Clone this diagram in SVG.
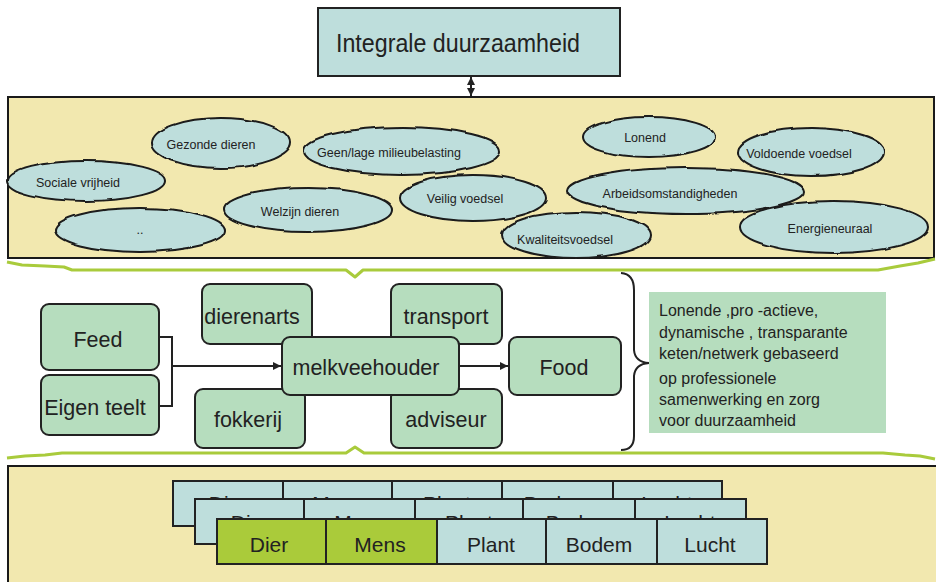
<svg xmlns="http://www.w3.org/2000/svg" width="936" height="582" viewBox="0 0 936 582">
<defs>
<style>
.panel{fill:#F2E8AF;stroke:#1a1a1a;stroke-width:2}
.ell{fill:#BEDEDC;stroke:#1a1a1a;stroke-width:2;filter:url(#wob)}
.et{font-family:"Liberation Sans",Arial,sans-serif;font-size:12.5px;fill:#222;text-anchor:middle}
.node{fill:#B6DDBE;stroke:#222;stroke-width:2}
.nt{font-family:"Liberation Sans",Arial,sans-serif;font-size:21.5px;fill:#222;text-anchor:middle}
.cell{fill:#BEDEDC;stroke:#222;stroke-width:2}
.cellg{fill:#AACB3A;stroke:#222;stroke-width:2}
.ct{font-family:"Liberation Sans",Arial,sans-serif;font-size:21px;fill:#222;text-anchor:middle}
.bt{font-family:"Liberation Sans",Arial,sans-serif;font-size:16px;fill:#222}
.conn{fill:none;stroke:#222;stroke-width:2}
.brace{fill:none;stroke:#A9CB3C;stroke-width:3;stroke-linejoin:round}
</style>
<filter id="wob" x="-10%" y="-20%" width="120%" height="140%">
<feTurbulence type="fractalNoise" baseFrequency="0.05" numOctaves="1" seed="4" result="n"/>
<feDisplacementMap in="SourceGraphic" in2="n" scale="4" xChannelSelector="R" yChannelSelector="G"/>
</filter>
<clipPath id="c1"><rect x="173" y="481" width="549" height="18"/></clipPath>
<clipPath id="c2"><rect x="195" y="499" width="551" height="20"/></clipPath>
<marker id="ah" viewBox="0 0 10 10" refX="10" refY="5" markerWidth="4" markerHeight="4" orient="auto-start-reverse">
<path d="M0,0 L10,5 L0,10 z" fill="#222"/>
</marker>
</defs>

<!-- top box -->
<g id="integrale">
<rect x="318" y="8" width="302" height="68" fill="#BEDEDC" stroke="#222" stroke-width="2"/>
<text x="458" y="52" font-family="'Liberation Sans',Arial,sans-serif" font-size="26" fill="#222" text-anchor="middle" textLength="244" lengthAdjust="spacingAndGlyphs">Integrale duurzaamheid</text>
</g>

<!-- values panel -->
<g id="waarden">
<rect class="panel" x="8" y="97" width="926" height="161"/>
<g id="e-gezonde"><ellipse class="ell" cx="221" cy="143" rx="69" ry="25"/><text class="et" x="211" y="148.5">Gezonde dieren</text></g>
<g id="e-sociale"><ellipse class="ell" cx="86" cy="181" rx="79" ry="20"/><text class="et" x="78" y="186.5">Sociale vrijheid</text></g>
<g id="e-dots"><ellipse class="ell" cx="140" cy="230" rx="85" ry="22"/><text class="et" x="140" y="234">..</text></g>
<g id="e-welzijn"><ellipse class="ell" cx="308" cy="210" rx="84" ry="22"/><text class="et" x="300" y="215.5">Welzijn dieren</text></g>
<g id="e-geen"><ellipse class="ell" cx="402" cy="151" rx="98" ry="24"/><text class="et" x="389" y="156.5">Geen/lage milieubelasting</text></g>
<g id="e-veilig"><ellipse class="ell" cx="473" cy="198" rx="73" ry="23"/><text class="et" x="465" y="202.5">Veilig voedsel</text></g>
<g id="e-lonend"><ellipse class="ell" cx="649" cy="137" rx="66" ry="20"/><text class="et" x="645" y="141.5">Lonend</text></g>
<g id="e-voldoende"><ellipse class="ell" cx="811" cy="152" rx="73" ry="24"/><text class="et" x="799" y="157.5">Voldoende voedsel</text></g>
<g id="e-arbeid"><ellipse class="ell" cx="686" cy="191" rx="118" ry="23"/><text class="et" x="670" y="197.5">Arbeidsomstandigheden</text></g>
<g id="e-kwaliteit"><ellipse class="ell" cx="576" cy="235" rx="74" ry="23"/><text class="et" x="565" y="243.5">Kwaliteitsvoedsel</text></g>
<g id="e-energie"><ellipse class="ell" cx="834" cy="227" rx="94" ry="26"/><text class="et" x="830" y="232.5">Energieneuraal</text></g>
</g>

<!-- bottom panel -->
<g id="basis">
<rect class="panel" x="8" y="466" width="940" height="130"/>
<g id="rij1">
<rect class="cell" x="173" y="481" width="110" height="45"/><rect class="cell" x="283" y="481" width="109" height="45"/><rect class="cell" x="392" y="481" width="110" height="45"/><rect class="cell" x="502" y="481" width="111" height="45"/><rect class="cell" x="613" y="481" width="109" height="45"/>
<g clip-path="url(#c1)"><text class="ct" x="228" y="511">Dier</text><text class="ct" x="338" y="511">Mens</text><text class="ct" x="447" y="511">Plant</text><text class="ct" x="557" y="511">Bodem</text><text class="ct" x="667" y="511">Lucht</text></g>
</g>
<g id="rij2">
<rect class="cell" x="195" y="499" width="109" height="45"/><rect class="cell" x="304" y="499" width="111" height="45"/><rect class="cell" x="415" y="499" width="108" height="45"/><rect class="cell" x="523" y="499" width="112" height="45"/><rect class="cell" x="635" y="499" width="111" height="45"/>
<g clip-path="url(#c2)"><text class="ct" x="250" y="530">Dier</text><text class="ct" x="360" y="530">Mens</text><text class="ct" x="469" y="530">Plant</text><text class="ct" x="579" y="530">Bodem</text><text class="ct" x="690" y="530">Lucht</text></g>
</g>
<g id="rij3">
<rect class="cellg" x="217" y="519" width="109" height="45"/><rect class="cellg" x="326" y="519" width="111" height="45"/><rect class="cell" x="437" y="519" width="109" height="45"/><rect class="cell" x="546" y="519" width="111" height="45"/><rect class="cell" x="657" y="519" width="110" height="45"/>
<text class="ct" x="269" y="551.5">Dier</text><text class="ct" x="380" y="551.5">Mens</text><text class="ct" x="491" y="551.5">Plant</text><text class="ct" x="599" y="551.5">Bodem</text><text class="ct" x="710" y="551.5">Lucht</text>
</g>
</g>

<!-- braces -->
<g id="accolades">
<path class="brace" d="M7,262 L22,265 L45,266 L64,267 L72,270 L346,270 L355,277 L363,270 L878,270 L900,266 L918,263 L935,259"/>
<path class="brace" d="M7,458 L25,456 L45,455 L62,453 L346,453 L355,447 L364,453 L883,453 L905,455 L920,456 L935,459"/>
<path class="conn" d="M621,273 Q634,274 634,290 L634,350 Q635,362 649,363 Q635,364 634,376 L634,436 Q634,450 621,450"/>
</g>

<!-- nodes -->
<g id="feed"><rect class="node" x="41" y="304" width="118" height="66" rx="8"/><text class="nt" x="98" y="347">Feed</text></g>
<g id="eigen-teelt"><rect class="node" x="41" y="375" width="118" height="60" rx="8"/><text class="nt" x="95" y="415">Eigen teelt</text></g>
<g id="dierenarts"><rect class="node" x="202" y="284" width="110" height="60" rx="8"/><text class="nt" x="252" y="324">dierenarts</text></g>
<g id="fokkerij"><rect class="node" x="195" y="389" width="110" height="59" rx="8"/><text class="nt" x="248" y="427">fokkerij</text></g>
<g id="transport"><rect class="node" x="391" y="284" width="111" height="60" rx="8"/><text class="nt" x="446" y="324">transport</text></g>
<g id="adviseur"><rect class="node" x="391" y="389" width="111" height="59" rx="8"/><text class="nt" x="446" y="427">adviseur</text></g>
<g id="melkveehouder"><rect class="node" x="282" y="337" width="177" height="58" rx="8"/><text class="nt" x="366" y="375">melkveehouder</text></g>
<g id="food"><rect class="node" x="509" y="337" width="112" height="58" rx="8"/><text class="nt" x="564" y="375">Food</text></g>

<g id="toelichting">
<rect x="649" y="292" width="237" height="141" fill="#B6DDBE"/>
<text class="bt" x="659" y="316">Lonende ,pro -actieve,</text>
<text class="bt" x="659" y="338">dynamische , transparante</text>
<text class="bt" x="659" y="359">keten/netwerk gebaseerd</text>
<text class="bt" x="659" y="384">op professionele</text>
<text class="bt" x="659" y="405">samenwerking en zorg</text>
<text class="bt" x="659" y="426">voor duurzaamheid</text>
</g>

<!-- connectors -->
<g id="connectors">
<line class="conn" x1="471" y1="77" x2="471" y2="96" marker-start="url(#ah)" marker-end="url(#ah)"/>
<path class="conn" d="M159,337 H172 V406 H159"/>
<line class="conn" x1="172" y1="366" x2="281" y2="366" marker-end="url(#ah)"/>
<line class="conn" x1="459" y1="366" x2="508" y2="366" marker-end="url(#ah)"/>
</g>
</svg>
